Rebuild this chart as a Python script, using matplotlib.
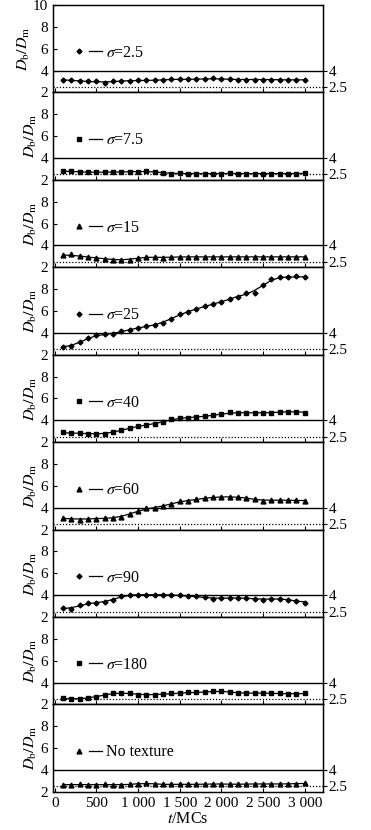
import numpy as np
import pandas as pd
import matplotlib
matplotlib.use('Agg')
import matplotlib.pyplot as plt
from matplotlib.lines import Line2D
from matplotlib.legend_handler import HandlerTuple

plt.rcParams['font.family'] = ['Liberation Serif', 'DejaVu Serif']
plt.rcParams['mathtext.fontset'] = 'stix'
plt.rcParams['font.size'] = 10

# time steps (MCs)
t = list(range(100, 3001, 100))

# Db/Dm values, one list per texture sigma
s2_5 = [3.15, 3.15, 3.0, 3.0, 3.0, 2.9, 3.0, 3.06, 3.06, 3.1, 3.1, 3.1, 3.15, 3.2, 3.2,
        3.2, 3.2, 3.22, 3.29, 3.22, 3.2, 3.18, 3.18, 3.18, 3.18, 3.18, 3.15, 3.15, 3.15, 3.15]
s7_5 = [2.8, 2.8, 2.7, 2.7, 2.7, 2.7, 2.7, 2.72, 2.75, 2.75, 2.77, 2.75, 2.63, 2.57, 2.6,
        2.57, 2.57, 2.57, 2.57, 2.57, 2.6, 2.57, 2.57, 2.57, 2.57, 2.57, 2.57, 2.57, 2.57, 2.6]
s15 = [3.08, 3.17, 2.99, 2.93, 2.87, 2.78, 2.68, 2.68, 2.68, 2.87, 2.93, 2.93, 2.87, 2.93, 2.95,
       2.95, 2.95, 2.95, 2.95, 2.95, 2.95, 2.95, 2.95, 2.95, 2.95, 2.95, 2.95, 2.95, 2.95, 2.95]
s25 = [2.68, 2.75, 3.14, 3.54, 3.76, 3.91, 3.88, 4.13, 4.28, 4.47, 4.59, 4.69, 4.93, 5.3, 5.7,
       5.92, 6.2, 6.44, 6.6, 6.84, 7.12, 7.3, 7.62, 7.68, 8.39, 8.97, 9.1, 9.07, 9.16, 9.1]
s40 = [2.89, 2.8, 2.83, 2.77, 2.74, 2.77, 2.89, 3.1, 3.25, 3.46, 3.61, 3.64, 3.85, 4.09, 4.2,
       4.23, 4.3, 4.36, 4.45, 4.54, 4.71, 4.68, 4.68, 4.68, 4.68, 4.68, 4.74, 4.8, 4.8, 4.68]
s60 = [3.04, 3.0, 2.9, 3.0, 3.0, 3.02, 3.04, 3.19, 3.4, 3.7, 3.93, 4.0, 4.12, 4.37, 4.58,
       4.64, 4.76, 4.85, 4.97, 5.0, 4.97, 5.0, 4.88, 4.76, 4.64, 4.7, 4.7, 4.67, 4.67, 4.64]
s90 = [2.8, 2.7, 3.07, 3.28, 3.28, 3.37, 3.58, 3.88, 4.03, 4.03, 4.05, 4.03, 4.03, 4.03, 3.98,
       3.88, 3.88, 3.79, 3.67, 3.73, 3.73, 3.73, 3.73, 3.67, 3.58, 3.67, 3.67, 3.58, 3.49, 3.28]
s180 = [2.58, 2.46, 2.52, 2.58, 2.68, 2.89, 3.0, 3.08, 3.0, 2.89, 2.89, 2.89, 2.92, 3.0, 3.0,
        3.1, 3.1, 3.1, 3.2, 3.23, 3.13, 3.05, 3.0, 3.05, 3.05, 3.0, 3.0, 2.97, 2.97, 3.0]
no_tex = [2.65, 2.65, 2.68, 2.65, 2.65, 2.68, 2.65, 2.65, 2.68, 2.7, 2.85, 2.68, 2.68, 2.68, 2.7,
          2.68, 2.68, 2.7, 2.72, 2.72, 2.7, 2.68, 2.72, 2.72, 2.72, 2.72, 2.72, 2.72, 2.75, 2.78]

series = [s2_5, s7_5, s15, s25, s40, s60, s90, s180, no_tex]
labels = [r'$\sigma$=2.5', r'$\sigma$=7.5', r'$\sigma$=15', r'$\sigma$=25', r'$\sigma$=40',
          r'$\sigma$=60', r'$\sigma$=90', r'$\sigma$=180', 'No texture']
markers = ['D', 's', '^', 'D', 's', '^', 'D', 's', '^']
msizes = [2.5, 3.5, 3.5, 2.5, 3.5, 3.5, 2.5, 3.5, 3.5]

xticks = [0, 500, 1000, 1500, 2000, 2500, 3000]
xticklabels = ['0', '500', '1 000', '1 500', '2 000', '2 500', '3 000']

fig, axes = plt.subplots(9, 1, figsize=(3.71, 8.30), dpi=100, sharex=True)
fig.subplots_adjust(left=0.143, right=0.871, bottom=0.046, top=0.994, hspace=0)

for i, ax in enumerate(axes):
    y = series[i]
    # smooth trend line through the points
    trend = pd.Series(y).rolling(3, center=True, min_periods=1).mean()
    ax.plot(t, trend, color='black', lw=0.9)
    ax.plot(t, y, linestyle='none', marker=markers[i], ms=msizes[i], color='black')

    ax.axhline(4, color='black', lw=1.0)
    ax.axhline(2.5, color='black', lw=0.9, ls=(0, (1, 1.5)))

    ax.set_xlim(-20, 3220)
    ax.set_ylim(2, 10)
    if i == 0:
        ax.set_yticks([2, 4, 6, 8, 10])
    else:
        ax.set_yticks([2, 4, 6, 8])
    ax.set_xticks(xticks)
    ax.tick_params(axis='both', direction='in', length=3, width=0.8, labelsize=11)
    ax.set_ylabel(r'$D_{\rm b}/D_{\rm m}$', fontsize=11.5, labelpad=1)
    for sp in ax.spines.values():
        sp.set_linewidth(1.0)

    # right side reference values
    ax2 = ax.twinx()
    ax2.set_ylim(2, 10)
    ax2.set_yticks([2.5, 4])
    ax2.set_yticklabels(['2.5', '4'])
    ax2.tick_params(axis='y', direction='out', length=3, width=0.8, labelsize=11, pad=1)

    h_mark = Line2D([], [], linestyle='none', marker=markers[i], ms=msizes[i], color='black')
    h_line = Line2D([], [], color='black', lw=0.9)
    ax.legend([(h_mark, h_line)], [labels[i]],
              handler_map={tuple: HandlerTuple(ndivide=2, pad=0.2)},
              loc='center left', bbox_to_anchor=(0.02, 0.45), frameon=False,
              handlelength=1.8, handletextpad=0.25, fontsize=11.5)

axes[-1].set_xticklabels(xticklabels)
axes[-1].set_xlabel(r'$t$/MCs', fontsize=11.5, labelpad=1)

fig.savefig('out.png', dpi=100)
